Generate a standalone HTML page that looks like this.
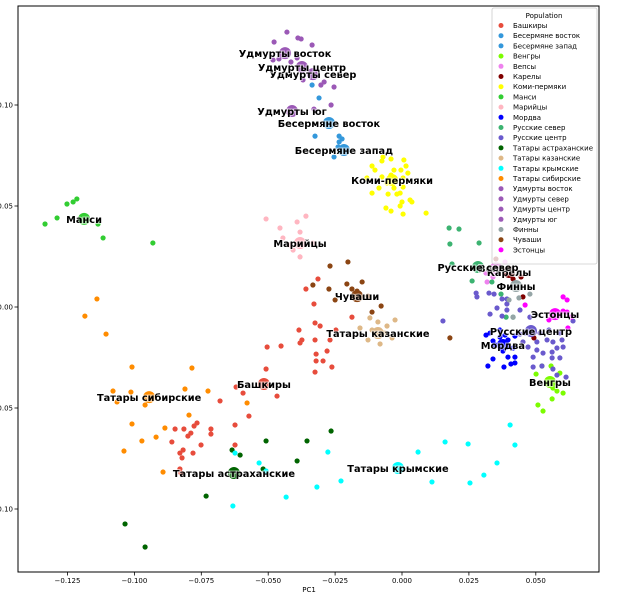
<!DOCTYPE html>
<html><head><meta charset="utf-8"><style>
html,body{margin:0;padding:0;background:#fff;}
svg{display:block;font-family:"DejaVu Sans","Liberation Sans",sans-serif;}
.lbl{font-weight:bold;font-size:9.8px;fill:#000;stroke:#fff;stroke-width:2px;paint-order:stroke;stroke-opacity:0.6}
.tick{font-size:7px;fill:#000}
.leg{font-size:7px;fill:#000}
</style></head><body>
<svg id="chart" width="620" height="603" viewBox="0 0 620 603" xmlns="http://www.w3.org/2000/svg">
<g id="plot"></g>
<g id="labels"></g>
<g id="axes"></g>
<g id="legend"></g>
</svg>
<script>
const xTicks=[-0.125,-0.1,-0.075,-0.05,-0.025,0,0.025,0.05];
const xTickLabels=["\u22120.125","\u22120.100","\u22120.075","\u22120.050","\u22120.025","0.000","0.025","0.050"];
const yTicks=[0.10,0.05,0,-0.05,-0.10];
const yTickLabels=["0.10","0.05","0.00","\u22120.05","\u22120.10"];

const popNames=["Башкиры","Бесермяне восток","Бесермяне запад","Венгры","Вепсы","Карелы","Коми-пермяки","Манси","Марийцы","Мордва","Русские север","Русские центр","Татары астраханские","Татары казанские","Татары крымские","Татары сибирские","Удмурты восток","Удмурты север","Удмурты центр","Удмурты юг","Финны","Чуваши","Эстонцы"];
const popColors=["#e74c3c","#3498db","#3498db","#7cfc00","#ee82ee","#800000","#ffff00","#32cd32","#ffb6c1","#0000ff","#3cb371","#6a5acd","#006400","#deb887","#00ffff","#ff8c00","#9b59b6","#9b59b6","#9b59b6","#9b59b6","#95a5a6","#8b4513","#ff00ff"];
const centroidX=[-0.0516,-0.0273,-0.0217,0.0553,0.0351,0.0400,-0.0037,-0.1188,-0.0381,0.0377,0.0284,0.0482,-0.0628,-0.0090,-0.0015,-0.0945,-0.0437,-0.0333,-0.0374,-0.0411,0.0426,-0.0168,0.0572];
const centroidY=[-0.0381,0.0911,0.0777,-0.0371,0.0193,0.0173,0.0629,0.0436,0.0317,-0.0188,0.0198,-0.0119,-0.0822,-0.0129,-0.0797,-0.0446,0.1257,0.1153,0.1188,0.0970,0.0104,0.0054,-0.0035];

const bashX=[-0.0329,-0.0325,-0.0306,-0.0385,-0.0325,-0.0374,-0.0381,-0.0452,-0.0504,-0.0321,-0.0280,-0.0321,-0.0295,-0.0262,-0.0325,-0.0508,-0.0269,-0.0187,-0.0247,-0.0620,-0.0594,-0.0467,-0.0680,-0.0572,-0.0624,-0.0766,-0.0777,-0.0815,-0.0848,-0.0714,-0.0789,-0.0800,-0.0714,-0.0860,-0.0751,-0.0624,-0.0818,-0.0830,-0.0781,-0.0822,-0.0830,-0.0826,-0.0359,-0.0314];
const bashY=[0.0015,-0.0079,-0.0094,-0.0114,-0.0163,-0.0163,-0.0178,-0.0193,-0.0198,-0.0233,-0.0218,-0.0267,-0.0267,-0.0297,-0.0322,-0.0307,-0.0163,-0.0050,-0.0114,-0.0396,-0.0426,-0.0441,-0.0465,-0.0540,-0.0584,-0.0574,-0.0589,-0.0604,-0.0604,-0.0604,-0.0624,-0.0639,-0.0629,-0.0668,-0.0683,-0.0683,-0.0708,-0.0723,-0.0723,-0.0747,-0.0802,-0.0822,0.0089,0.0139];
const besVX=[-0.0336,-0.0310,-0.0325];
const besVY=[0.1099,0.1035,0.0846];
const besZX=[-0.0235,-0.0224,-0.0235,-0.0239,-0.0254];
const besZY=[0.0846,0.0832,0.0817,0.0792,0.0743];
const hunX=[0.0501,0.0523,0.0557,0.0590,0.0564,0.0579,0.0602,0.0561,0.0508,0.0527];
const hunY=[-0.0332,-0.0292,-0.0292,-0.0327,-0.0401,-0.0416,-0.0426,-0.0455,-0.0485,-0.0515];
const vepX=[0.0314,0.0318,0.0340,0.0385];
const vepY=[0.0168,0.0124,0.0149,0.0223];
const karX=[0.0351,0.0445,0.0415,0.0452,0.0493];
const karY=[0.0238,0.0149,0.0139,0.0050,-0.0153];
const komiX=[-0.0071,-0.0041,0.0007,-0.0112,0.0015,-0.0075,-0.0030,-0.0004,0.0022,-0.0101,-0.0131,-0.0075,-0.0041,0.0004,-0.0056,0.0004,-0.0086,-0.0030,-0.0007,-0.0112,-0.0052,-0.0019,0.0000,0.0030,0.0037,-0.0007,-0.0060,-0.0041,0.0004,0.0090];
const komiY=[0.0743,0.0733,0.0728,0.0698,0.0698,0.0723,0.0678,0.0678,0.0663,0.0678,0.0639,0.0644,0.0653,0.0639,0.0614,0.0594,0.0589,0.0589,0.0564,0.0564,0.0559,0.0559,0.0520,0.0530,0.0520,0.0500,0.0490,0.0475,0.0460,0.0465];
const mansiX=[-0.1334,-0.1289,-0.1252,-0.1229,-0.1215,-0.1136,-0.1117,-0.0931];
const mansiY=[0.0411,0.0441,0.0510,0.0520,0.0535,0.0411,0.0342,0.0317];
const mariX=[-0.0508,-0.0456,-0.0392,-0.0359,-0.0381,-0.0445,-0.0407,-0.0381,-0.0333,-0.0419];
const mariY=[0.0436,0.0391,0.0421,0.0450,0.0371,0.0342,0.0282,0.0248,0.0317,0.0307];
const mordX=[0.0314,0.0329,0.0366,0.0385,0.0340,0.0366,0.0396,0.0422,0.0348,0.0392,0.0415,0.0377,0.0340,0.0396,0.0422,0.0407,0.0422,0.0321,0.0381];
const mordY=[-0.0139,-0.0129,-0.0114,-0.0139,-0.0168,-0.0149,-0.0163,-0.0144,-0.0188,-0.0198,-0.0203,-0.0218,-0.0257,-0.0248,-0.0248,-0.0282,-0.0277,-0.0292,-0.0297];
const rusNX=[0.0176,0.0213,0.0179,0.0288,0.0187,0.0262,0.0336,0.0370,0.0389,0.0415];
const rusNY=[0.0391,0.0386,0.0312,0.0317,0.0213,0.0129,0.0124,0.0064,-0.0050,-0.0050];
const rusCX=[0.0153,0.0277,0.0280,0.0325,0.0344,0.0374,0.0392,0.0392,0.0355,0.0329,0.0392,0.0441,0.0374,0.0478,0.0441,0.0460,0.0516,0.0549,0.0590,0.0639,0.0504,0.0542,0.0564,0.0598,0.0504,0.0527,0.0561,0.0579,0.0602,0.0490,0.0561,0.0590,0.0490,0.0523,0.0564,0.0579,0.0613,0.0452,0.0471];
const rusCY=[-0.0069,0.0069,0.0050,0.0069,0.0064,0.0040,0.0040,0.0015,-0.0005,-0.0035,-0.0015,-0.0015,-0.0045,-0.0050,-0.0134,-0.0129,-0.0129,-0.0114,-0.0129,-0.0069,-0.0173,-0.0163,-0.0173,-0.0163,-0.0213,-0.0228,-0.0223,-0.0203,-0.0198,-0.0248,-0.0252,-0.0252,-0.0297,-0.0292,-0.0307,-0.0337,-0.0347,-0.0173,-0.0198];
const tAstX=[-0.0265,-0.0355,-0.0508,-0.0635,-0.0605,-0.0519,-0.0732,-0.1035,-0.0960,-0.0392];
const tAstY=[-0.0614,-0.0663,-0.0663,-0.0708,-0.0733,-0.0802,-0.0936,-0.1074,-0.1188,-0.0762];
const tKazX=[-0.0120,-0.0090,-0.0056,-0.0112,-0.0064,-0.0037,-0.0127,-0.0082,-0.0026,-0.0157];
const tKazY=[-0.0054,-0.0074,-0.0094,-0.0114,-0.0129,-0.0153,-0.0163,-0.0183,-0.0064,-0.0104];
const tKrX=[-0.0277,-0.0228,-0.0318,-0.0433,-0.0534,-0.0508,-0.0624,-0.0632,0.0060,0.0161,0.0247,0.0355,0.0404,0.0422,0.0306,0.0254,0.0112];
const tKrY=[-0.0718,-0.0861,-0.0891,-0.0941,-0.0772,-0.0812,-0.0723,-0.0985,-0.0718,-0.0668,-0.0678,-0.0772,-0.0584,-0.0683,-0.0832,-0.0871,-0.0866];
const tSibX=[-0.1140,-0.1185,-0.1106,-0.1009,-0.0785,-0.1080,-0.1013,-0.1065,-0.0811,-0.0725,-0.0960,-0.0796,-0.1009,-0.0886,-0.0919,-0.0972,-0.1039,-0.0893,-0.0579];
const tSibY=[0.0040,-0.0045,-0.0134,-0.0297,-0.0302,-0.0416,-0.0421,-0.0470,-0.0406,-0.0416,-0.0485,-0.0535,-0.0579,-0.0599,-0.0644,-0.0663,-0.0713,-0.0817,-0.0475];
const udVX=[-0.0430,-0.0389,-0.0377,-0.0478,-0.0482,-0.0460];
const udVY=[0.1361,0.1332,0.1327,0.1312,0.1223,0.1228];
const udSX=[-0.0370,-0.0291,-0.0303,-0.0254];
const udSY=[0.1124,0.1114,0.1099,0.1089];
const udCX=[-0.0415,-0.0392,-0.0336];
const udCY=[0.1213,0.1233,0.1297];
const udYX=[-0.0265,-0.0329];
const udYY=[0.1000,0.0980];
const finX=[0.0437,0.0478,0.0415,0.0400];
const finY=[0.0045,0.0064,-0.0050,0.0035];
const chuvX=[-0.0333,-0.0273,-0.0206,-0.0187,-0.0168,-0.0250,-0.0269,-0.0202,-0.0149,-0.0127,-0.0112,-0.0078,0.0179];
const chuvY=[0.0109,0.0089,0.0114,0.0089,0.0079,0.0035,0.0203,0.0223,0.0124,0.0054,-0.0025,0.0005,-0.0153];
const estX=[0.0602,0.0460,0.0549,0.0602,0.0617,0.0620,0.0617,0.0632];
const estY=[0.0050,0.0010,-0.0064,-0.0020,-0.0025,-0.0104,0.0035,-0.0050];

const groupXs=[bashX,besVX,besZX,hunX,vepX,karX,komiX,mansiX,mariX,mordX,rusNX,rusCX,tAstX,tKazX,tKrX,tSibX,udVX,udSX,udCX,udYX,finX,chuvX,estX];
const groupYs=[bashY,besVY,besZY,hunY,vepY,karY,komiY,mansiY,mariY,mordY,rusNY,rusCY,tAstY,tKazY,tKrY,tSibY,udVY,udSY,udCY,udYY,finY,chuvY,estY];

const NS="http://www.w3.org/2000/svg";
const L=18,R=599,T=6,B=572;
function sx(v){return 402+v*2676;}
function sy(v){return 307-v*2020;}
function mk(tag,attrs,parent){const e=document.createElementNS(NS,tag);for(const k in attrs)e.setAttribute(k,attrs[k]);parent.appendChild(e);return e;}

const plot=document.getElementById('plot');
for(let g=0;g<popNames.length;g++){
  const grp=mk('g',{},plot);
  
  
  const xs=groupXs[g],ys=groupYs[g];
  for(let i=0;i<xs.length;i++){
    const c=mk('circle',{cx:sx(xs[i]),cy:sy(ys[i]),r:2.6,fill:popColors[g]},grp);
    
    
  }
}
for(let g=0;g<popNames.length;g++){
  const c=mk('circle',{cx:sx(centroidX[g]),cy:sy(centroidY[g]),r:6,fill:popColors[g]},plot);
  
  
}
const labels=document.getElementById('labels');
for(let g=0;g<popNames.length;g++){
  const t=mk('text',{x:sx(centroidX[g]),y:sy(centroidY[g])+4,'text-anchor':'middle',class:'lbl'},labels);
  t.textContent=popNames[g];
  
  
}
const axes=document.getElementById('axes');
const frame=mk('rect',{x:L,y:T,width:R-L,height:B-T,fill:'none',stroke:'#000','stroke-width':1},axes);


for(let i=0;i<xTicks.length;i++){
  const x=sx(xTicks[i]);
  const tl=mk('line',{x1:x,x2:x,y1:B,y2:B+3.5,stroke:'#000','stroke-width':0.8},axes);
  
  
  const t=mk('text',{x:x,y:B+11,'text-anchor':'middle',class:'tick'},axes);
  t.textContent=xTickLabels[i];
  
  
}
for(let i=0;i<yTicks.length;i++){
  const y=sy(yTicks[i]);
  const tl=mk('line',{x1:L-3.5,x2:L,y1:y,y2:y,stroke:'#000','stroke-width':0.8},axes);
  
  
  const t=mk('text',{x:L-5,y:y+2.5,'text-anchor':'end',class:'tick'},axes);
  t.textContent=yTickLabels[i];
  
  
}
const xt=mk('text',{x:309,y:592,'text-anchor':'middle',class:'tick'},axes);
xt.textContent='PC1';


const leg=document.getElementById('legend');
const box=mk('rect',{x:492,y:8,width:105,height:256,fill:'#fff','fill-opacity':0.8,stroke:'#ccc','stroke-width':0.8,rx:2},leg);


const lt=mk('text',{x:544,y:18,'text-anchor':'middle',class:'leg'},leg);
lt.textContent='Population';


for(let g=0;g<popNames.length;g++){
  const y=25.5+g*10.2;
  const e=mk('g',{},leg);
  
  
  const c=mk('circle',{cx:501,cy:y,r:2.5,fill:popColors[g]},e);
  
  
  const t=mk('text',{x:513,y:y+2.5,class:'leg'},e);
  t.textContent=popNames[g];
  
  
}
</script>
</body></html>
